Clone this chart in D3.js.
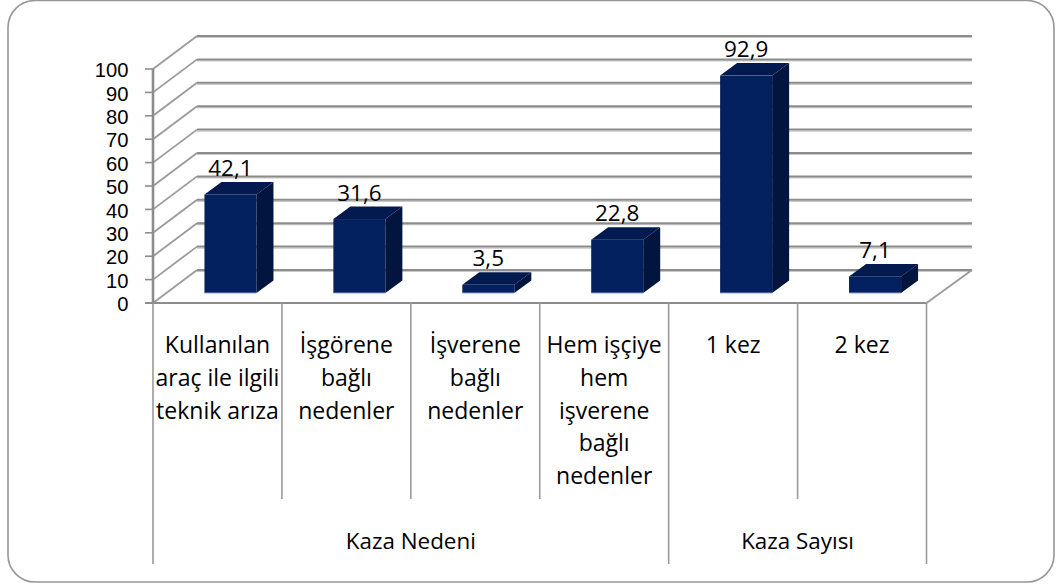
<!DOCTYPE html>
<html><head><meta charset="utf-8">
<script src="https://cdn.jsdelivr.net/npm/d3@7"></script>
<style>html,body{margin:0;padding:0;background:#fff}svg{display:block}text{font-family:"Open Sans",Lato,sans-serif;fill:#000}text.tick{font-family:"Liberation Sans",sans-serif}</style>
</head><body><svg id="c" width="1056" height="585"></svg>
<script>
const categories=["Kullanılan araç ile ilgili teknik arıza","İşgörene bağlı nedenler","İşverene bağlı nedenler","Hem işçiye hem işverene bağlı nedenler","1 kez","2 kez"];
const categoryLines=[["Kullanılan","araç ile ilgili","teknik arıza"],["İşgörene","bağlı","nedenler"],["İşverene","bağlı","nedenler"],["Hem işçiye","hem","işverene","bağlı","nedenler"],["1 kez"],["2 kez"]];
const values=[42.1,31.6,3.5,22.8,92.9,7.1];
const labels=["42,1","31,6","3,5","22,8","92,9","7,1"];
const groups=["Kaza Nedeni","Kaza Sayısı"];
const groupSpans=[[0,4],[4,6]];
const ticks=[0,10,20,30,40,50,60,70,80,90,100];

const svg=d3.select("#c");
const x0=153,x1=926.5,yB=303,yT=69,dx=44,dy=33;
const x=d3.scaleLinear().domain([0,6]).range([x0,x1]);
const y=d3.scaleLinear().domain([0,100]).range([yB,yT]);
const grid="#8c8c8c", soft="#c9c9c9";
svg.append("rect").attr("x",8).attr("y",0.5).attr("width",1046).attr("height",581.5).attr("rx",27).attr("fill","#fff").attr("stroke","#979797").attr("stroke-width",1.6);

ticks.forEach(t=>{
  const g=svg.append("g").attr("fill","none");
  g.append("line").attr("x1",x0+dx).attr("x2",x1+dx+1.5).attr("y1",y(t)-dy+1.5).attr("y2",y(t)-dy+1.5).attr("stroke",soft).attr("stroke-width",1.2);
  g.append("line").attr("x1",x0+dx).attr("x2",x1+dx+1.5).attr("y1",y(t)-dy).attr("y2",y(t)-dy).attr("stroke",grid).attr("stroke-width",2);
  g.append("line").attr("x1",x0).attr("x2",x0+dx).attr("y1",y(t)).attr("y2",y(t)-dy).attr("stroke","#9a9a9a").attr("stroke-width",1.8);
  g.append("line").attr("x1",x0-8).attr("x2",x0).attr("y1",y(t)).attr("y2",y(t)).attr("stroke",grid).attr("stroke-width",1.6);
  svg.append("text").attr("class","tick").attr("x",128.5).attr("y",y(t)+8.2).attr("text-anchor","end").attr("font-size",20.2).text(t);
});
svg.append("line").attr("x1",x1).attr("x2",x1+dx+1.5).attr("y1",yB).attr("y2",yB-dy).attr("stroke","#9a9a9a").attr("stroke-width",1.8);
svg.append("line").attr("x1",x0).attr("x2",x0).attr("y1",yT).attr("y2",yB).attr("stroke",grid).attr("stroke-width",2.6);
svg.append("line").attr("x1",x0-8).attr("x2",x1).attr("y1",yB).attr("y2",yB).attr("stroke",grid).attr("stroke-width",2.2);

d3.range(0,7).forEach(i=>{
  const long=i===0||i===4||i===6;
  svg.append("line").attr("x1",x(i)).attr("x2",x(i)).attr("y1",yB).attr("y2",long?564:499).attr("stroke","#9a9a9a").attr("stroke-width",1.6);
});

const bw=52,bx=13,by=10,ddx=17,ddy=12.5;
values.forEach((v,i)=>{
  const cx=x(i+0.5)+bx, l=cx-bw/2, r=cx+bw/2, b=yB-by, t=b-(yB-y(v));
  const g=svg.append("g");
  g.append("rect").attr("x",l).attr("y",t).attr("width",bw).attr("height",b-t).attr("fill","#03215f");
  g.append("path").attr("d",d3.line()([[l,t],[l+ddx,t-ddy],[r+ddx,t-ddy],[r,t]])).attr("fill","#021a4f");
  g.append("path").attr("d",d3.line()([[r,t],[r+ddx,t-ddy],[r+ddx,b-ddy],[r,b]])).attr("fill","#02153e");
  g.append("line").attr("x1",l).attr("x2",r).attr("y1",b).attr("y2",b).attr("stroke","#8fa3cf").attr("stroke-width",1);
  svg.append("text").attr("x",cx).attr("y",t-ddy-6).attr("text-anchor","middle").attr("font-size",22.5).text(labels[i]);
});

categoryLines.forEach((ls,i)=>{
  ls.forEach((s,j)=>svg.append("text").attr("x",x(i+0.5)).attr("y",353+j*32.8).attr("text-anchor","middle").attr("font-size",23).text(s));
});
groups.forEach((g,i)=>{
  svg.append("text").attr("x",(x(groupSpans[i][0])+x(groupSpans[i][1]))/2).attr("y",549).attr("text-anchor","middle").attr("font-size",22.4).text(g);
});
</script></body></html>
